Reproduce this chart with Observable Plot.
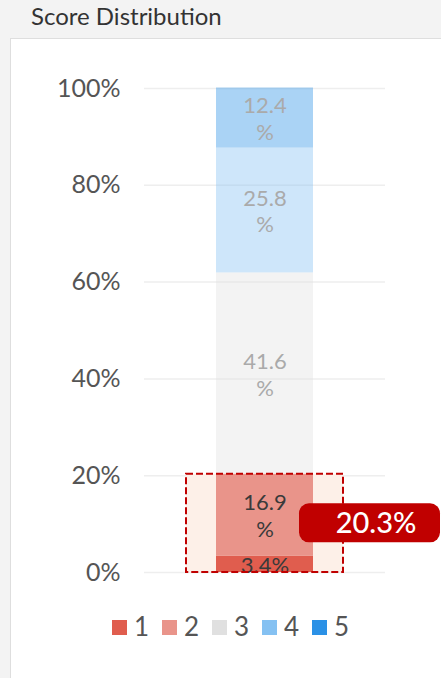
<!DOCTYPE html>
<html><head><meta charset="utf-8">
<script src="https://cdn.jsdelivr.net/npm/d3@7"></script>
<script src="https://cdn.jsdelivr.net/npm/@observablehq/plot@0.6"></script>
<style>
html,body{margin:0;padding:0;background:#f3f3f3;}
#wrap{position:relative;width:441px;height:678px;overflow:hidden;font-family:Lato,"Open Sans",sans-serif;}
#title{position:absolute;left:31px;top:1px;font-size:24px;color:#333;line-height:30px;}
#panel{position:absolute;left:10px;top:38px;width:440px;height:660px;background:#fff;border:1px solid #dedede;}
#chart{position:absolute;left:0;top:0;}
#legend{position:absolute;left:112px;top:610px;display:flex;}
.item{display:flex;align-items:center;width:50px;font-size:26px;color:#555;}
.sw{width:15px;height:15px;margin-right:7px;margin-top:2px;}
</style></head><body>
<div id="wrap"><div id="title">Score Distribution</div><div id="panel"></div><div id="chart"></div><div id="legend"></div></div>
<script>
const scores = ["1","2","3","4","5"];
const shares = [3.4, 16.9, 41.6, 25.8, 12.4];
const highlighted = ["1","2"];
const yTicks = [0,20,40,60,80,100];
const yTickLabels = ["0%","20%","40%","60%","80%","100%"];
const palette = ["#e05d4e","#e9948a","#e0e0e0","#85c1f2","#2b91e6"];
const category = "Score Distribution";

const table = scores.map((s,i)=>({cat: category, score: s, share: shares[i], hi: highlighted.includes(s)}));
const hiTotal = d3.sum(table.filter(d=>d.hi), d=>d.share);
const hiData = [{cat: category, total: hiTotal, mid: hiTotal/2}];
const label = d => d.share < 5 ? `${d.share}%` : `${d.share}\n%`;

const chart = Plot.plot({
  width: 441, height: 678,
  marginTop: 88, marginBottom: 106, marginLeft: 144, marginRight: 56,
  style: {fontFamily: "Lato, 'Open Sans', sans-serif", background: "transparent", overflow: "visible"},
  x: {domain: [category], padding: 0, axis: null},
  y: {domain: [0, 100]},
  color: {domain: scores, range: palette},
  opacity: {type: "identity"},
  marks: [
    Plot.gridY(yTicks, {stroke: "#eeeeee", strokeOpacity: 1, strokeWidth: 1.5}),
    Plot.axisY(yTicks, {tickFormat: d => yTickLabels[yTicks.indexOf(d)], tickSize: 0, tickPadding: 24, fontSize: 25, fill: "#555", label: null}),
    Plot.barY(hiData, {x: "cat", y1: 0, y2: "total", fill: "#fdf0e8", insetLeft: 42, insetRight: 42}),
    Plot.barY(table, {x: "cat", y: "share", fill: "score", fillOpacity: d => d.hi ? 1 : 0.4, insetLeft: 72, insetRight: 72}),
    Plot.text(table, Plot.filter(d => !d.hi, Plot.stackY({x: "cat", y: "share", text: label, fill: "#aaaaaa", fontSize: 22, lineHeight: 1.22}))),
    Plot.text(table, Plot.filter(d => d.hi, Plot.stackY({x: "cat", y: "share", text: label, fill: "#3a3a3a", fontSize: 22, lineHeight: 1.22}))),
    Plot.barY(hiData, {x: "cat", y1: 0, y2: "total", fill: "none", stroke: "#c00000", strokeWidth: 2, strokeDasharray: "7,3", insetLeft: 42, insetRight: 42}),
    Plot.barY(hiData, {x: "cat", y1: "mid", y2: "mid", fill: "#c00000", rx: 10, insetLeft: 155, insetRight: -55, insetTop: -19.5, insetBottom: -19.5}),
    Plot.text(hiData, {x: "cat", y: "mid", text: d => d.total.toFixed(1) + "%", fill: "white", fontSize: 29, fontWeight: 500, dx: 111})
  ]
});
document.getElementById("chart").appendChild(chart);

const legend = document.getElementById("legend");
scores.forEach((s,i) => {
  const item = document.createElement("div");
  item.className = "item";
  const sw = document.createElement("div");
  sw.className = "sw";
  sw.style.background = palette[i];
  const t = document.createElement("span");
  t.textContent = s;
  item.appendChild(sw); item.appendChild(t);
  legend.appendChild(item);
});
</script>
</body></html>
